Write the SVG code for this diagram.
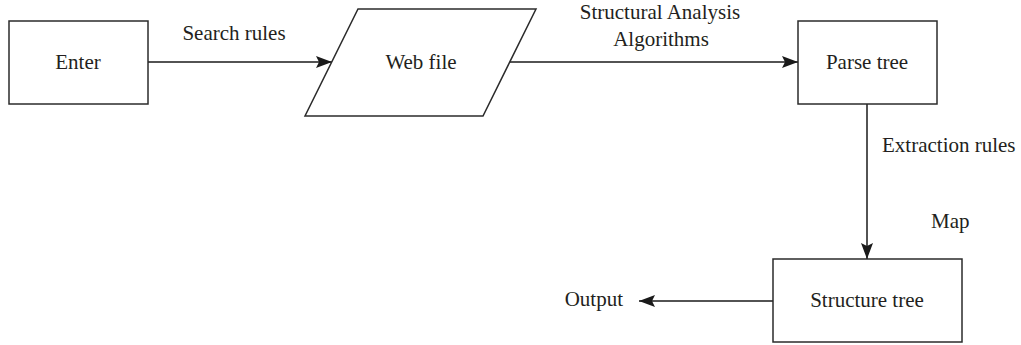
<svg xmlns="http://www.w3.org/2000/svg" width="1021" height="345" viewBox="0 0 1021 345">
  <style>
    .box { fill: #ffffff; stroke: #2b2b2b; stroke-width: 1.5; }
    .edge { fill: none; stroke: #1a1a1a; stroke-width: 1.5; }
    text { font-family: "Liberation Serif", "Times New Roman", serif; font-size: 21px; fill: #231f20; }
    .c { text-anchor: middle; }
    .e { text-anchor: end; }
  </style>
  <defs>
    <marker id="arrow" viewBox="0 0 16 12" refX="16" refY="6" markerWidth="16" markerHeight="12" markerUnits="userSpaceOnUse" orient="auto">
      <path d="M0,0 L16,6 L0,12 L3,6 Z" fill="#1a1a1a"/>
    </marker>
  </defs>
  <rect width="1021" height="345" fill="#ffffff"/>

  <g id="connectors">
    <line class="edge" x1="148" y1="62" x2="332" y2="62" marker-end="url(#arrow)"/>
    <line class="edge" x1="510" y1="62" x2="798" y2="62" marker-end="url(#arrow)"/>
    <line class="edge" x1="867" y1="104" x2="867" y2="259" marker-end="url(#arrow)"/>
    <line class="edge" x1="773" y1="301" x2="639" y2="301" marker-end="url(#arrow)"/>
    <text class="c" x="234" y="40">Search rules</text>
    <text class="c" x="660" y="19">Structural Analysis</text>
    <text class="c" x="661" y="46">Algorithms</text>
    <text x="882" y="152">Extraction rules</text>
    <text x="931" y="228">Map</text>
    <text class="e" x="623" y="306">Output</text>
  </g>

  <g id="enter">
    <rect class="box" x="9" y="21" width="139" height="83"/>
    <text class="c" x="78" y="69">Enter</text>
  </g>

  <g id="web-file">
    <polygon class="box" points="358,9 536,9 483,116 305,116"/>
    <text class="c" x="421" y="69">Web file</text>
  </g>

  <g id="parse-tree">
    <rect class="box" x="798" y="21" width="139" height="83"/>
    <text class="c" x="867" y="69">Parse tree</text>
  </g>

  <g id="structure-tree">
    <rect class="box" x="773" y="259" width="189" height="83"/>
    <text class="c" x="867" y="307">Structure tree</text>
  </g>
</svg>
